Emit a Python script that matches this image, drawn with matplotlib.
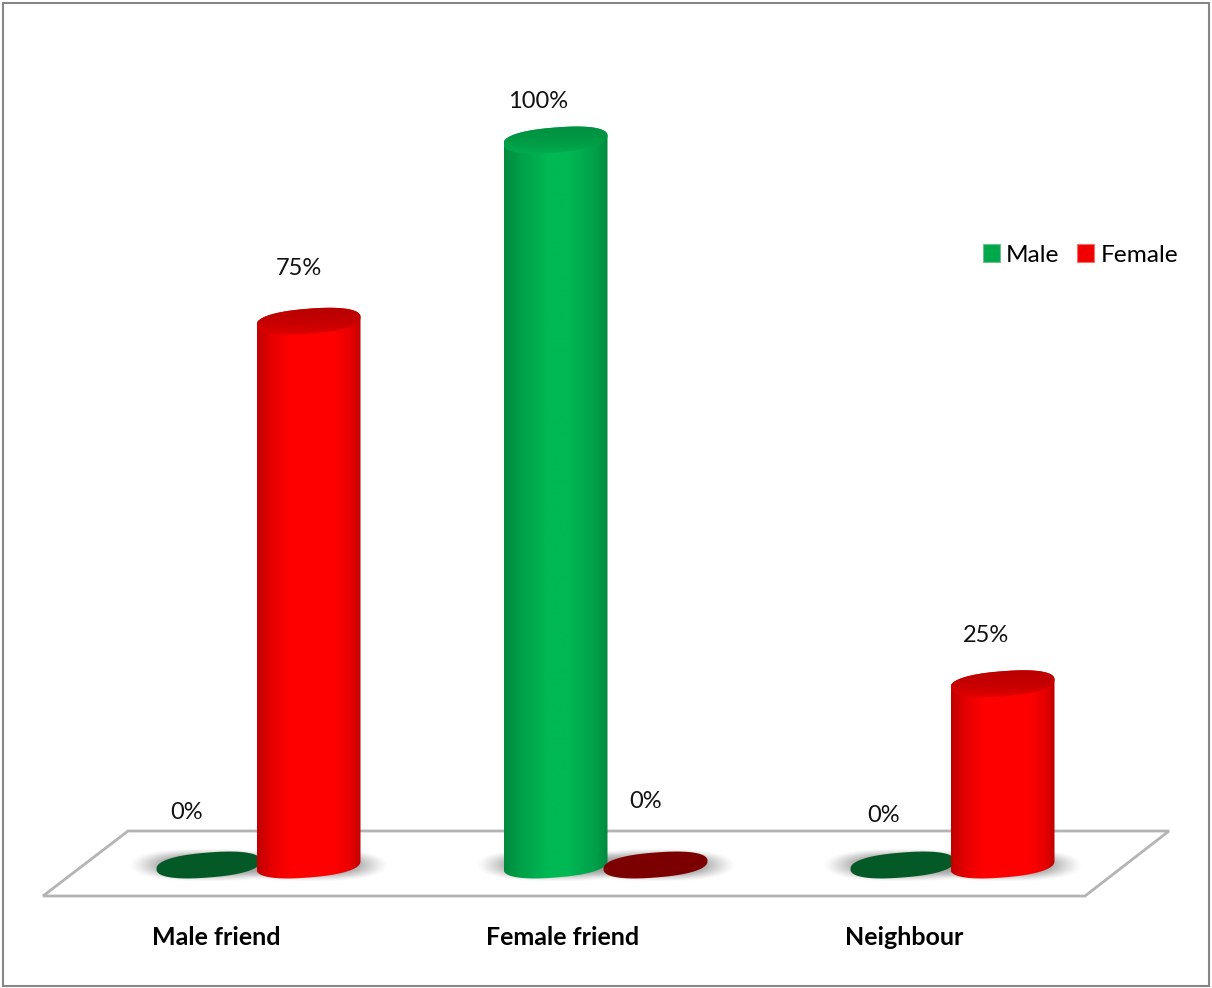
import matplotlib
matplotlib.use('Agg')
import matplotlib.pyplot as plt
import numpy as np
from matplotlib.patches import Patch, Polygon, Rectangle

categories = ['Male friend', 'Female friend', 'Neighbour']
male = [0, 100, 0]
female = [75, 0, 25]
series_names = ['Male', 'Female']

W, H = 1212, 988
plt.rcParams['font.family'] = ['Lato', 'DejaVu Sans']

fig = plt.figure(figsize=(W / 100, H / 100), dpi=100)
ax = fig.add_axes([0, 0, 1, 1])
ax.axis('off')

# 1 categorie = 347 px, 1 % = 7.25 px
xlim = (-258.5 / 347, (W - 258.5) / 347)
ylim = (-(H - 865) / 7.25, 865 / 7.25)

half_w = 52 / 347
half_h = 12.5 / 7.25
shear = 4 / 7.25
bar_off = 50 / 347


def px(x, y):
    return x / W, 1 - y / H


def ellipse_xy(cx, cy, t):
    # un peu plus rond qu'une vraie ellipse
    c = np.sign(np.cos(t)) * np.abs(np.cos(t)) ** 0.85
    s = np.sign(np.sin(t)) * np.abs(np.sin(t)) ** 0.85
    return cx + half_w * c, cy + half_h * s + shear * c


def gradient(stops):
    pos, cols = zip(*stops)
    cols = np.array([matplotlib.colors.to_rgb(c) for c in cols])
    s = np.linspace(0, 1, 200)
    return np.stack([np.interp(s, pos, cols[:, i]) for i in range(3)], axis=-1)


def shadow(cx):
    xs = np.linspace(-1, 1, 160)
    ys = np.linspace(-1, 1, 60)
    xx, yy = np.meshgrid(xs, ys)
    r = (np.abs(xx) ** 2.6 + np.abs(yy) ** 2.2) ** 0.5
    alpha = np.clip((1 - r) / 0.45, 0, 1) ** 1.3 * 0.65
    img = np.zeros(xx.shape + (4,))
    img[..., :3] = 0.55
    img[..., 3] = alpha
    ax.imshow(img, extent=(cx - 80 / 347, cx + 80 / 347, -17 / 7.25, 17 / 7.25),
              aspect='auto', zorder=2, interpolation='bilinear')


def cylinder(cx, val, body, top, flat):
    t = np.linspace(0, 2 * np.pi, 120)
    if val == 0:
        ex, ey = ellipse_xy(cx, 0, t)
        ax.fill(ex, ey, color=flat, zorder=3, lw=0)
        return
    t1 = np.linspace(0, np.pi, 60)
    x1, y1 = ellipse_xy(cx, val, t1)
    t2 = np.linspace(np.pi, 2 * np.pi, 60)
    x2, y2 = ellipse_xy(cx, 0, t2)
    verts = np.column_stack([np.r_[x1, x2], np.r_[y1, y2]])
    outline = Polygon(verts, closed=True, transform=ax.transData, fc='none', ec='none')
    ax.add_patch(outline)
    im = ax.imshow(gradient(body)[np.newaxis, :, :],
                   extent=(cx - half_w, cx + half_w, -half_h - 1, val + half_h + 1),
                   aspect='auto', zorder=3, interpolation='bilinear')
    im.set_clip_path(outline)
    # dessus du cylindre
    ex, ey = ellipse_xy(cx, val, t)
    cap = Polygon(np.column_stack([ex, ey]), closed=True, transform=ax.transData,
                  fc='none', ec='none')
    ax.add_patch(cap)
    im2 = ax.imshow(gradient(top)[:, np.newaxis, :],
                    extent=(cx - half_w, cx + half_w, val - half_h - shear, val + half_h + shear),
                    aspect='auto', zorder=4, interpolation='bilinear', origin='upper')
    im2.set_clip_path(cap)


# sol
floor = [px(43, 896), px(1085, 896), px(1169, 831), px(128, 831)]
fig.add_artist(Polygon(floor, closed=True, transform=fig.transFigure, fc='white',
                       ec='#b4b4b4', lw=2, zorder=-1))
# cadre
fig.add_artist(Rectangle(px(3, 986), 1206 / W, 983 / H, transform=fig.transFigure,
                         fc='none', ec='#868686', lw=1.5, zorder=5))
fig.patch.set_facecolor('white')

red_body = [(0, '#c00000'), (0.14, '#e60000'), (0.32, '#ff0000'), (0.75, '#ff0000'),
            (0.9, '#e80000'), (1, '#c00000')]
red_top = [(0, '#b40000'), (0.55, '#c80000'), (0.9, '#e00000'), (1, '#f00000')]
green_body = [(0, '#008a3e'), (0.16, '#00a049'), (0.42, '#00b854'), (0.62, '#00b854'),
              (0.88, '#00a049'), (1, '#008a3e')]
green_top = [(0, '#008f40'), (0.55, '#009a45'), (0.9, '#00ab4e'), (1, '#00b854')]

positions = np.arange(len(categories))
male_x = positions - bar_off
female_x = positions + bar_off

for x in male_x:
    shadow(x)
for x in female_x:
    shadow(x)

for x, v in zip(male_x, male):
    cylinder(x, v, green_body, green_top, '#045a26')
for x, v in zip(female_x, female):
    cylinder(x, v, red_body, red_top, '#7d0000')

ax.set_xlim(*xlim)
ax.set_ylim(*ylim)

# etiquettes, decalage en pixels depuis le haut de chaque barre
male_offsets = [(-22, 53), (-17, 39), (-19, 50)]
female_offsets = [(-10, 53), (-10, 64), (-17, 48)]
for xs, vals, offs in [(male_x, male, male_offsets), (female_x, female, female_offsets)]:
    for x, v, o in zip(xs, vals, offs):
        ax.annotate(f'{v}%', xy=(x, v), xytext=o, textcoords='offset pixels',
                    ha='center', va='center', fontsize=17, color='#111111', zorder=6)

cat_dx = [-42, -43, -48]
for p, name, dx in zip(positions, categories, cat_dx):
    ax.annotate(name, xy=(p, 0), xytext=(dx, -72), textcoords='offset pixels',
                ha='center', va='center', fontsize=18, fontweight='bold', color='black',
                zorder=6)

handles = [Patch(fc='#00a84c', ec='#6fbf90', lw=0.8), Patch(fc='#f00000', ec='#f07070', lw=0.8)]
ax.legend(handles, series_names, ncol=2, frameon=False, fontsize=17.6,
          loc='center left', bbox_to_anchor=px(983, 255), bbox_transform=fig.transFigure,
          handlelength=0.7, handleheight=0.7, handletextpad=0.25, columnspacing=0.72,
          borderpad=0, borderaxespad=0)

fig.savefig('out.png', dpi=100)
